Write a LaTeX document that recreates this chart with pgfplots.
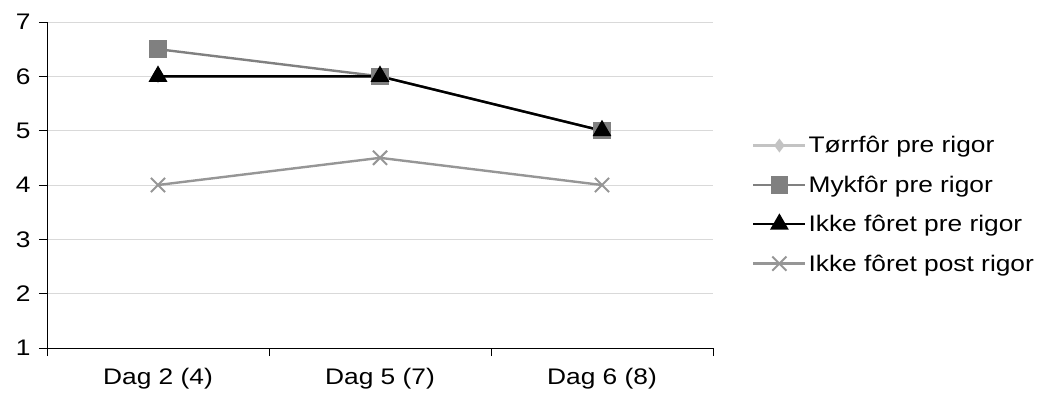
\documentclass[border=0pt]{standalone}
\usepackage{fontspec}
\setmainfont{Liberation Sans}[FakeStretch=1.17]
\usepackage{pgfplots}
\pgfplotsset{compat=1.18}
\definecolor{cTorr}{RGB}{195,195,195}
\definecolor{cMyk}{RGB}{128,128,128}
\definecolor{cPre}{RGB}{0,0,0}
\definecolor{cPost}{RGB}{150,150,150}
\definecolor{cGrid}{RGB}{217,217,217}
\newcommand{\cf}{\fontsize{22.5bp}{26bp}\selectfont}
\begin{document}
\begin{tikzpicture}
\useasboundingbox (-47bp,-51bp) rectangle (993bp,348bp);
\begin{axis}[
  at={(0,0)}, anchor=south west,
  scale only axis, width=666bp, height=326bp,
  xmin=-0.5, xmax=2.5, ymin=1, ymax=7,
  axis x line*=bottom, axis y line*=left,
  axis line style={-, black, line width=0.8bp},
  ytick={1,2,3,4,5,6,7},
  ymajorgrids, grid style={cGrid, line width=0.8bp},
  tick align=outside, major tick length=8bp,
  tick style={black, line width=0.8bp},
  xtick={-0.5,0.5,1.5,2.5}, xticklabels={},
  extra x ticks={0,1,2},
  extra x tick labels={Dag 2 (4), Dag 5 (7), Dag 6 (8)},
  extra x tick style={major tick length=0pt, xticklabel style={yshift=-17bp}},
  yticklabel style={xshift=-5bp},
  every tick label/.append style={font=\cf},
  /pgf/number format/assume math mode=true,
  legend style={draw=none, fill=none, font=\cf, at={(1,0.44)}, xshift=39bp, anchor=west,
    row sep=17.5bp, inner sep=0pt},
  legend cell align=left,
  legend image code/.code={\draw[mark repeat=2,mark phase=2] plot coordinates {(0bp,0bp)(26bp,0bp)(52bp,0bp)};},
  clip=false,
]
\addplot[cTorr, line width=2.4bp, mark=diamond*, mark size=5bp, mark options={solid, fill=cTorr, draw=cTorr}]
  coordinates {(0,6)(1,6)(2,5)};
\addlegendentry{Tørrfôr pre rigor}
\addplot[cMyk, line width=2.4bp, mark=square*, mark size=7.5bp, mark options={solid, fill=cMyk, draw=cMyk}]
  coordinates {(0,6.5)(1,6)(2,5)};
\addlegendentry{Mykfôr pre rigor}
\addplot[cPre, line width=2.4bp, mark=triangle*, mark size=8.5bp, mark options={solid, fill=black, draw=black}]
  coordinates {(0,6)(1,6)(2,5)};
\addlegendentry{Ikke fôret pre rigor}
\addplot[cPost, line width=2.4bp, mark=x, mark size=10bp, mark options={solid, draw=cPost, line width=2bp}]
  coordinates {(0,4)(1,4.5)(2,4)};
\addlegendentry{Ikke fôret post rigor}
\end{axis}
\end{tikzpicture}
\end{document}
